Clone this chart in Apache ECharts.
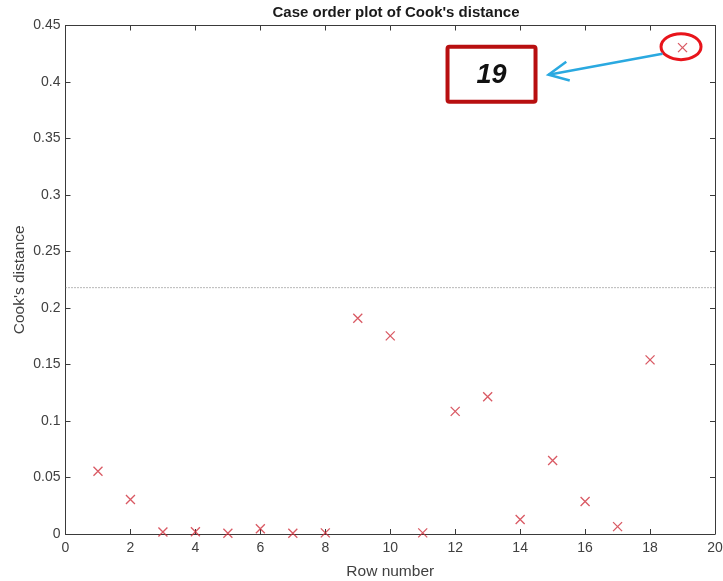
<!DOCTYPE html>
<html>
<head>
<meta charset="utf-8">
<script src="https://cdn.jsdelivr.net/npm/echarts@6/dist/echarts.min.js"></script>
<style>
  html, body { margin: 0; padding: 0; background: #fff; }
  #chart { width: 723px; height: 581px; }
</style>
</head>
<body>
<div id="chart"></div>
<script>
// Row numbers and their Cook's distance values
const rowNumbers = [1, 2, 3, 4, 5, 6, 7, 8, 9, 10, 11, 12, 13, 14, 15, 16, 17, 18, 19];
const cooksDistance = [0.0556, 0.0306, 0.0018, 0.0020, 0.0006, 0.0047, 0.0006, 0.0010, 0.1909,
                       0.1753, 0.0010, 0.1085, 0.1215, 0.0129, 0.0650, 0.0288, 0.0065, 0.1541, 0.4304];
// Reference threshold drawn as a dotted line
const threshold = 0.218;
// Highlighted observation
const highlightRow = 19;
const highlightLabel = '19';

const xTicks = { min: 0, max: 20, interval: 2 };
const yTicks = { min: 0, max: 0.45, interval: 0.05 };

const font = 'Liberation Sans, Arial, Helvetica, sans-serif';
const axisColor = '#3a3a3a';
const labelColor = '#404040';

const points = rowNumbers.map((r, i) => [r, cooksDistance[i]]);

const chart = echarts.init(document.getElementById('chart'), null, { renderer: 'canvas' });

const baseAxis = {
  axisLine: { show: true, onZero: false, lineStyle: { color: axisColor, width: 1 } },
  axisTick: { show: true, inside: true, length: 5, lineStyle: { color: axisColor } },
  splitLine: { show: false },
};

chart.setOption({
  animation: false,
  backgroundColor: '#ffffff',
  title: {
    text: "Case order plot of Cook's distance",
    left: 391,
    top: 0,
    textAlign: 'center',
    textStyle: { fontFamily: font, fontSize: 15, fontWeight: 'bold', color: '#1a1a1a' }
  },
  grid: { left: 65.5, right: 8, top: 25.5, bottom: 47, containLabel: false, outerBoundsMode: 'none' },
  xAxis: [
    Object.assign({}, baseAxis, {
      type: 'value', position: 'bottom', min: xTicks.min, max: xTicks.max, interval: xTicks.interval,
      name: 'Row number', nameLocation: 'middle', nameGap: 30, nameMoveOverlap: false,
      nameTextStyle: { fontFamily: font, fontSize: 15.5, color: labelColor },
      axisLabel: { fontFamily: font, fontSize: 14, color: labelColor, margin: 7 }
    }),
    Object.assign({}, baseAxis, {
      type: 'value', position: 'top', min: xTicks.min, max: xTicks.max, interval: xTicks.interval,
      axisLabel: { show: false }
    })
  ],
  yAxis: [
    Object.assign({}, baseAxis, {
      type: 'value', position: 'left', min: yTicks.min, max: yTicks.max, interval: yTicks.interval,
      name: "Cook's distance", nameLocation: 'middle', nameGap: 38, nameRotate: 90, nameMoveOverlap: false,
      nameTextStyle: { fontFamily: font, fontSize: 15.5, color: labelColor },
      axisLabel: { fontFamily: font, fontSize: 14, color: labelColor, margin: 5 }
    }),
    Object.assign({}, baseAxis, {
      type: 'value', position: 'right', min: yTicks.min, max: yTicks.max, interval: yTicks.interval,
      axisLabel: { show: false }
    })
  ],
  series: [
    {
      type: 'line',
      data: [[xTicks.min, threshold], [xTicks.max, threshold]],
      symbol: 'none',
      silent: true,
      lineStyle: { color: '#6e6e6e', width: 1, type: [1, 2] },
      z: 1
    },
    {
      type: 'scatter',
      data: points,
      symbol: 'path://M0,0L10,10M10,0L0,10',
      symbolSize: 9,
      itemStyle: { color: 'rgba(0,0,0,0)', borderColor: '#d0303c', borderWidth: 1.3 },
      z: 3
    }
  ]
});

// Callout: circle around the highlighted point, arrow to a boxed label
const hp = chart.convertToPixel({ xAxisIndex: 0, yAxisIndex: 0 }, points[highlightRow - 1]);
const boxW = 88, boxH = 55;
const boxX = hp[0] - 235, boxY = hp[1] - 1;
const arrowEnd = [boxX + boxW + 13, boxY + 28];
const arrowStart = [hp[0] - 20, hp[1] + 6];
const ang = Math.atan2(arrowStart[1] - arrowEnd[1], arrowStart[0] - arrowEnd[0]);
const headLen = 22, headSpread = 0.45;
const h1 = [arrowEnd[0] + headLen * Math.cos(ang + headSpread), arrowEnd[1] + headLen * Math.sin(ang + headSpread)];
const h2 = [arrowEnd[0] + headLen * Math.cos(ang - headSpread), arrowEnd[1] + headLen * Math.sin(ang - headSpread)];

chart.setOption({
  graphic: [
    {
      type: 'ellipse',
      shape: { cx: hp[0] - 1.5, cy: hp[1] - 1, rx: 20, ry: 13 },
      style: { fill: 'none', stroke: '#e8141b', lineWidth: 3 },
      z: 10
    },
    {
      type: 'polyline',
      shape: { points: [arrowStart, arrowEnd] },
      style: { stroke: '#2aa9e0', lineWidth: 2.5, fill: 'none' },
      z: 10
    },
    {
      type: 'polyline',
      shape: { points: [h1, arrowEnd, h2] },
      style: { stroke: '#2aa9e0', lineWidth: 2.5, fill: 'none' },
      z: 10
    },
    {
      type: 'rect',
      shape: { x: boxX, y: boxY, width: boxW, height: boxH, r: 2 },
      style: { fill: '#ffffff', stroke: '#b80f10', lineWidth: 4 },
      z: 10
    },
    {
      type: 'text',
      x: boxX + boxW / 2,
      y: boxY + boxH / 2 + 1,
      style: {
        text: highlightLabel,
        fontFamily: font, fontSize: 27, fontWeight: 'bold', fontStyle: 'italic',
        fill: '#111111', align: 'center', verticalAlign: 'middle'
      },
      z: 11
    }
  ]
});
</script>
</body>
</html>
